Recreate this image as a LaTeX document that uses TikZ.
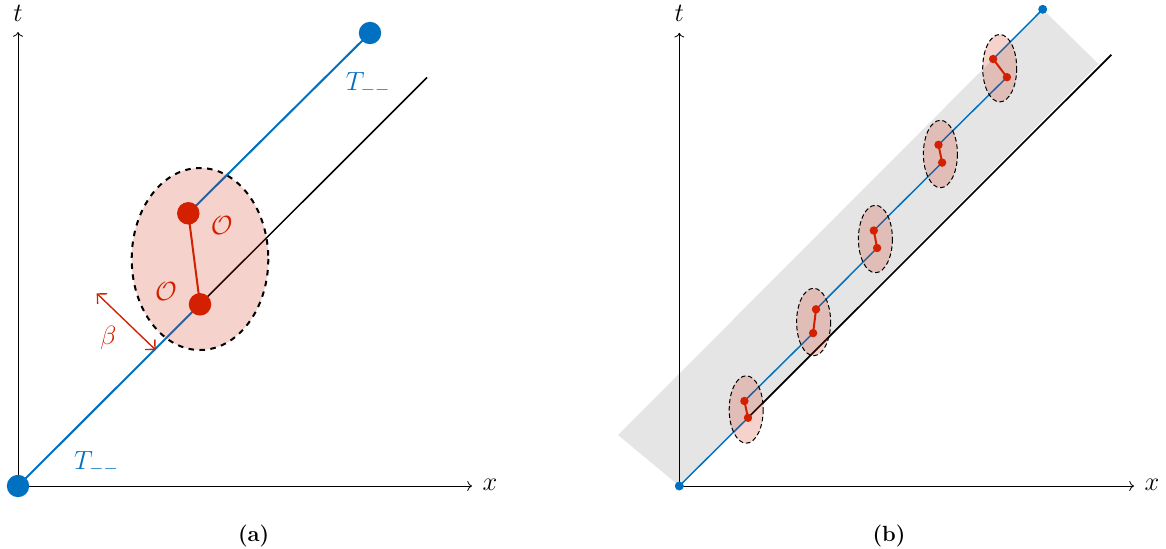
\documentclass[tikz,border=0pt]{standalone}
\usetikzlibrary{arrows.meta}
\definecolor{wlblue}{RGB}{0,112,192}
\definecolor{objred}{RGB}{210,32,0}
\begin{document}
\begin{tikzpicture}[x=0.5464pt,y=-0.5464pt,
  axisline/.style={->,line width=0.45pt},
  lbl/.style={font=\Large,inner sep=0pt},
  captext/.style={font=\large\bfseries,inner sep=0pt},
  wlA/.style={draw=wlblue,line width=1.1pt},
  wlB/.style={draw=wlblue,line width=0.8pt},
  blkA/.style={draw=black,line width=0.85pt},
  blkB/.style={draw=black,line width=0.9pt},
  blobA/.style={fill=objred,fill opacity=0.2,draw=black,draw opacity=1,dashed,line width=1.1pt},
  blobB/.style={fill=objred,fill opacity=0.2,draw=black,draw opacity=1,dash pattern=on 2.5pt off 1.5pt,line width=0.55pt},
  bondA/.style={draw=objred,line width=1.1pt},
  bondB/.style={draw=objred,line width=1.1pt},
  bigblue/.style={circle,fill=wlblue,inner sep=0pt,minimum size=12.2pt},
  bigred/.style={circle,fill=objred,inner sep=0pt,minimum size=12.3pt},
  smallblue/.style={circle,fill=wlblue,inner sep=0pt,minimum size=4.9pt},
  smallred/.style={circle,fill=objred,inner sep=0pt,minimum size=4.6pt},
  barb/.style={objred,line width=0.75pt,{Straight Barb[length=3.8pt,width=7.6pt]}-{Straight Barb[length=3.8pt,width=7.6pt]}}
]
\useasboundingbox (0,0) rectangle (1166,548);

% ================= panel (a) =================
\coordinate (Oa) at (18,486);
\coordinate (Ta) at (370,33);
\coordinate (La) at (200,304.3);
\coordinate (Ua) at (188.3,213.3);
\coordinate (Ea) at (427,77.5);
\coordinate (tA) at (18,32);
\coordinate (xA) at (472,486);
\coordinate (b1) at (96.7,293.3);
\coordinate (b2) at (155.7,350);

\draw[axisline] (Oa) -- (tA);
\draw[axisline] (Oa) -- (xA);
\node[lbl] (tlabA) at (18,13.5) {$t$};
\node[lbl] (xlabA) at (490,485) {$x$};

\draw[blkA] (La) -- (Ea);
\draw[wlA] (Oa) -- (La);
\draw[wlA] (Ua) -- (Ta);

\draw[blobA] (200,259) ellipse [x radius=68.3, y radius=91];
\draw[bondA] (Ua) -- (La);
\node[bigred] (ua) at (Ua) {};
\node[bigred] (la) at (La) {};
\node[bigblue] (oa) at (Oa) {};
\node[bigblue] (ta) at (Ta) {};

\node[lbl,text=objred] (Oup) at (221.7,225) {$\mathcal{O}$};
\node[lbl,text=objred] (Olow) at (166,291.7) {$\mathcal{O}$};
\draw[barb] (b1) -- (b2);
\node[lbl,text=objred] (beta) at (108.3,338.3) {$\beta$};
\node[lbl,text=wlblue] (TlowA) at (96.5,463) {$T_{--}$};
\node[lbl,text=wlblue] (TupA) at (368,84) {$T_{--}$};
\node[captext] (capA) at (253.7,536) {(a)};

% ================= panel (b) =================
\coordinate (Ob) at (679.3,486);
\coordinate (Tb) at (1042.7,9.3);
\coordinate (Eb) at (1111.3,54.8);
\coordinate (tB) at (679.3,32.8);
\coordinate (xB) at (1134,486);
\coordinate (U1) at (744.4,401);   \coordinate (L1) at (748,417.8);
\coordinate (U2) at (816,309.3);   \coordinate (L2) at (813.1,333.1);
\coordinate (U3) at (873.8,230.5); \coordinate (L3) at (877.1,248);
\coordinate (U4) at (938.5,144.8); \coordinate (L4) at (942.1,162.6);
\coordinate (U5) at (993.1,59);    \coordinate (L5) at (1006.9,77.2);
\coordinate (BA) at (618,435);
\coordinate (BC) at (1098.5,64);

\fill[black!10] (BA) -- (Ob) -- (BC) -- (Tb) -- cycle;

\draw[axisline] (Ob) -- (tB);
\draw[axisline] (Ob) -- (xB);
\node[lbl] (tlabB) at (679.3,13.5) {$t$};
\node[lbl] (xlabB) at (1152,485) {$x$};

\draw[blkB] (L1) -- (Eb);
\draw[wlB] (Ob) -- (L1);
\draw[wlB] (U1) -- (L2);
\draw[wlB] (U2) -- (L3);
\draw[wlB] (U3) -- (L4);
\draw[wlB] (U4) -- (L5);
\draw[wlB] (U5) -- (Tb);

\foreach \c in {(746.2,409.5),(813.6,322),(875.4,239),(940.4,154),(999.7,68.2)}
  \draw[blobB] \c ellipse [x radius=17, y radius=33.7];

\foreach \k in {1,...,5}{
  \draw[bondB] (U\k) -- (L\k);
  \node[smallred] (u\k) at (U\k) {};
  \node[smallred] (l\k) at (L\k) {};
}
\node[smallblue] (ob) at (Ob) {};
\node[smallblue] (tb) at (Tb) {};
\node[captext] (capB) at (889,536) {(b)};
\end{tikzpicture}
\end{document}
